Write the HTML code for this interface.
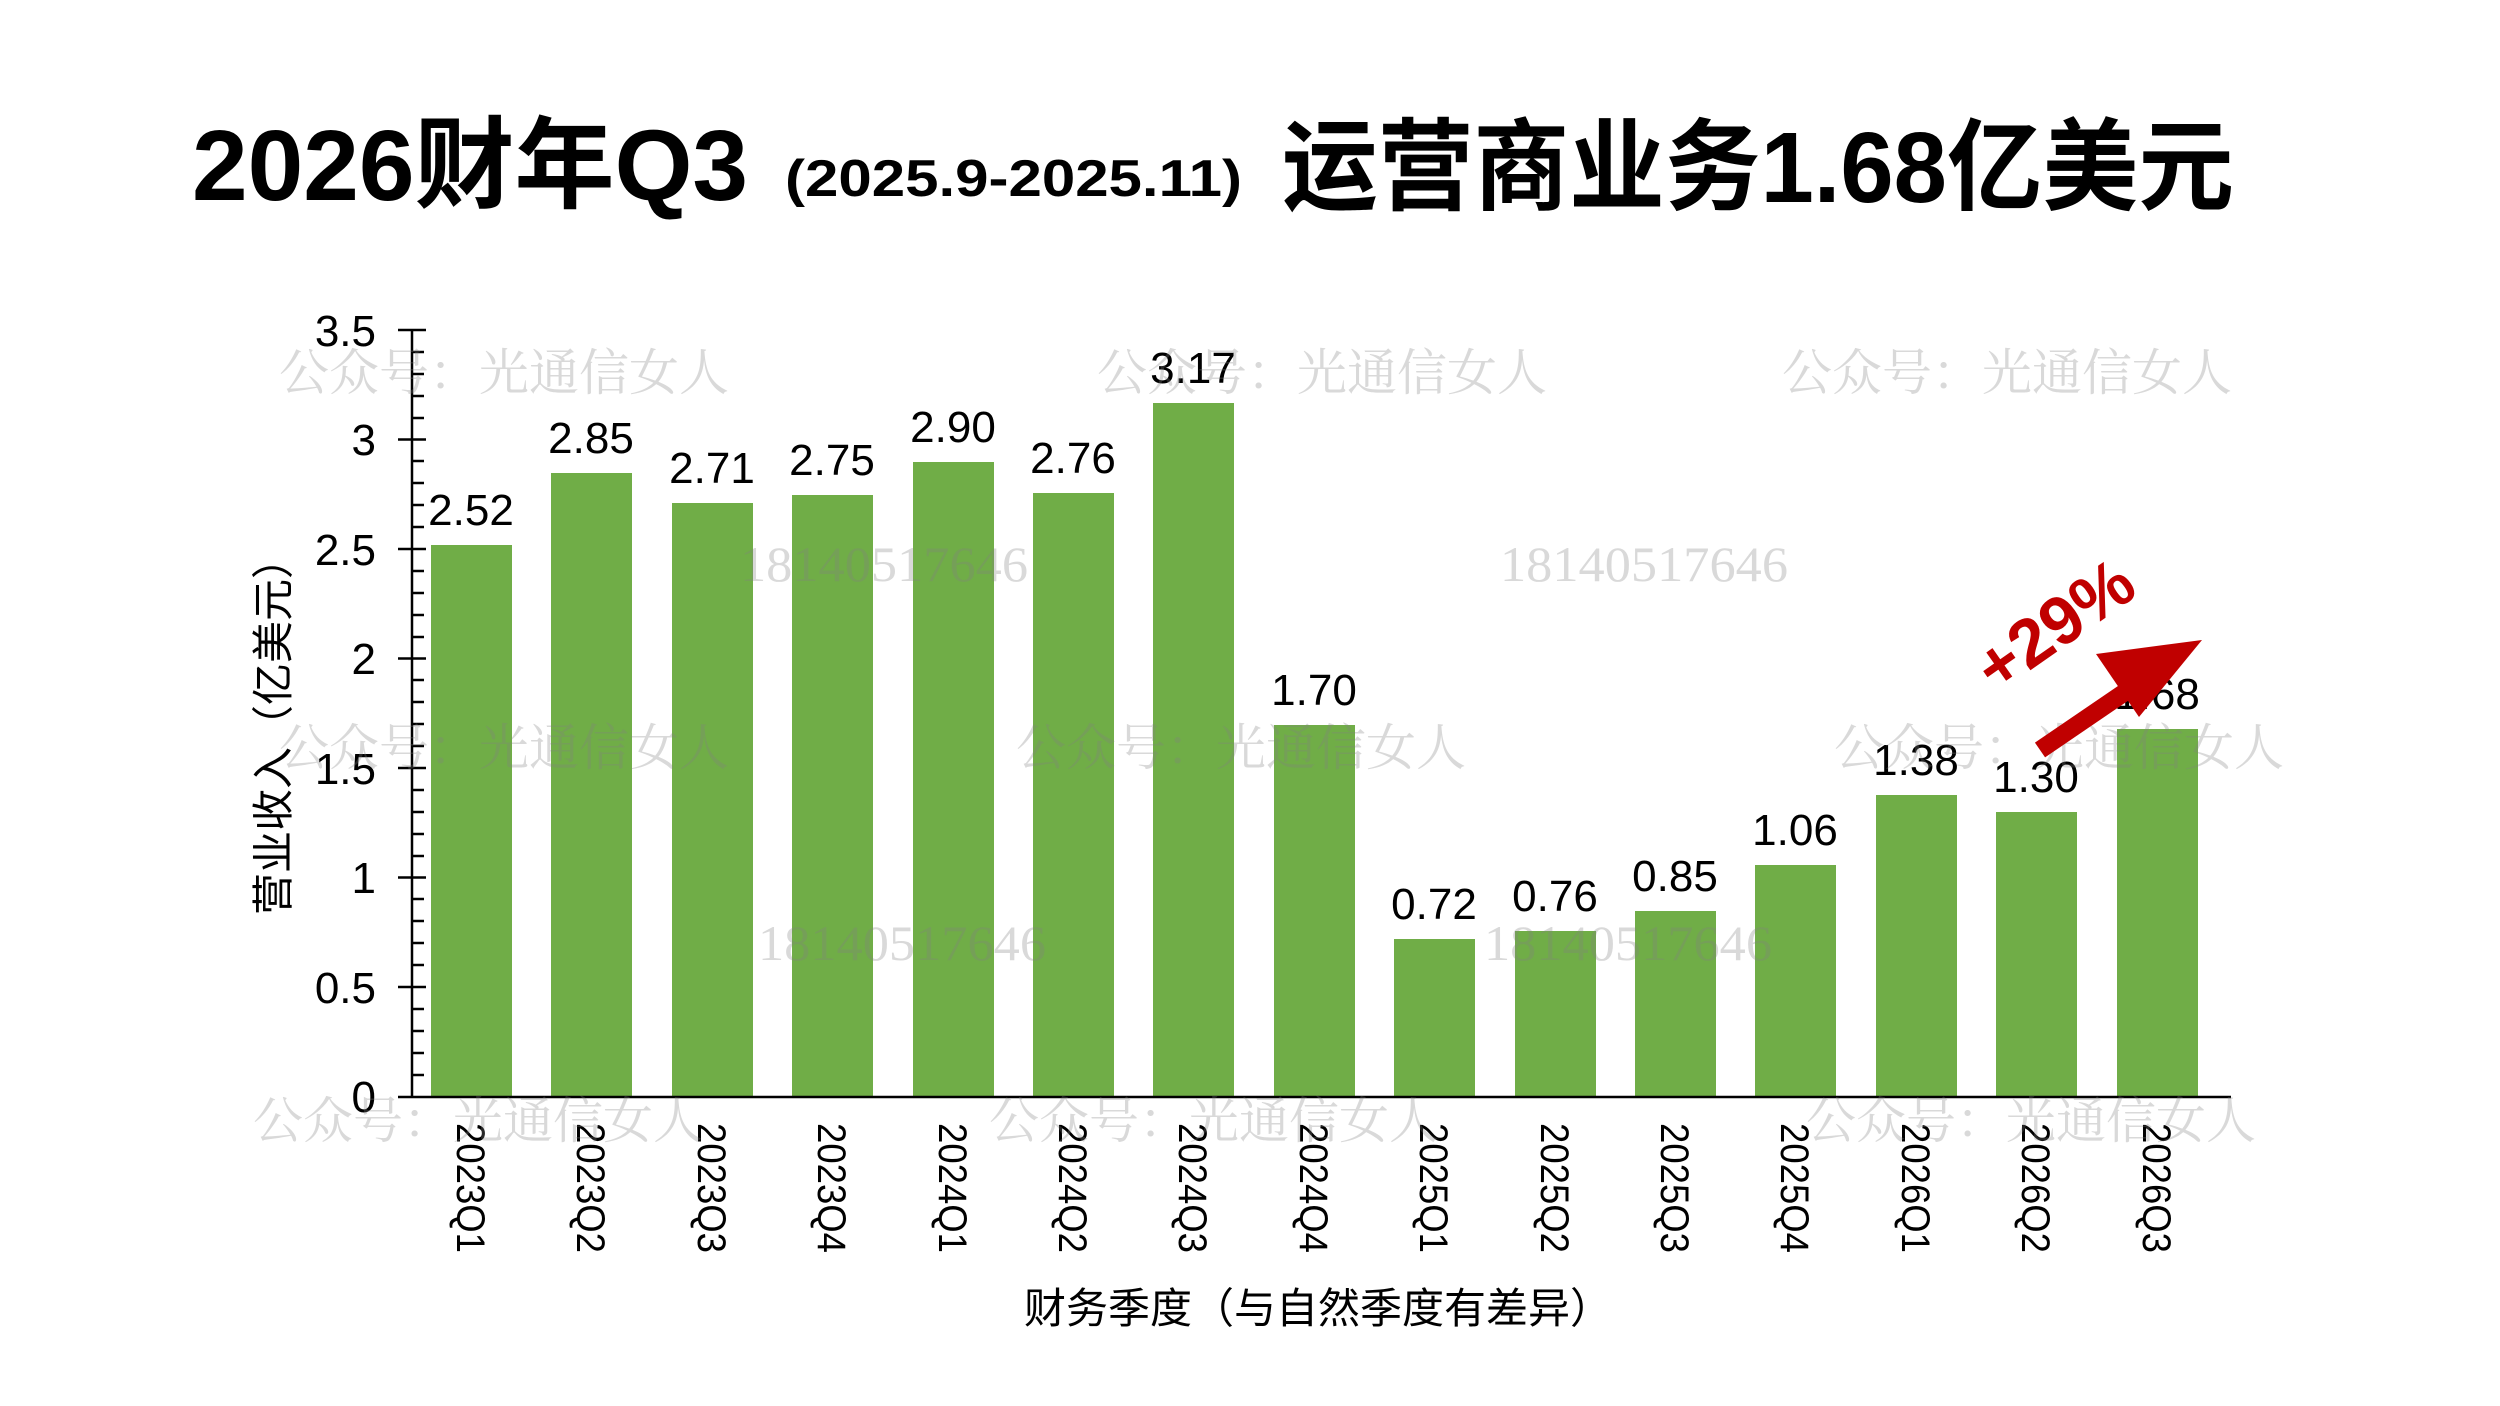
<!DOCTYPE html>
<html><head><meta charset="utf-8"><style>
html,body{margin:0;padding:0;background:#fff;}
svg{display:block;}
</style></head><body>
<svg width="2500" height="1406" viewBox="0 0 2500 1406" xmlns="http://www.w3.org/2000/svg">
<rect width="2500" height="1406" fill="#fff"/>
<g font-family="'Liberation Sans','Noto Sans CJK SC',sans-serif" font-weight="bold" fill="#000">
<text x="192" y="200" font-size="100" textLength="556" lengthAdjust="spacingAndGlyphs">2026财年Q3</text>
<text x="785" y="196" font-size="52" textLength="457" lengthAdjust="spacingAndGlyphs">(2025.9-2025.11)</text>
<text x="1282" y="202" font-size="100" textLength="952" lengthAdjust="spacingAndGlyphs">运营商业务1.68亿美元</text>
</g>
<g fill="#70AD47">
<rect x="431" y="545" width="81" height="552"/>
<rect x="551" y="473" width="81" height="624"/>
<rect x="672" y="503" width="81" height="594"/>
<rect x="792" y="495" width="81" height="602"/>
<rect x="913" y="462" width="81" height="635"/>
<rect x="1033" y="493" width="81" height="604"/>
<rect x="1153" y="403" width="81" height="694"/>
<rect x="1274" y="725" width="81" height="372"/>
<rect x="1394" y="939" width="81" height="158"/>
<rect x="1515" y="931" width="81" height="166"/>
<rect x="1635" y="911" width="81" height="186"/>
<rect x="1755" y="865" width="81" height="232"/>
<rect x="1876" y="795" width="81" height="302"/>
<rect x="1996" y="812" width="81" height="285"/>
<rect x="2117" y="729" width="81" height="368"/>
</g>
<g stroke="#000" stroke-width="2.5" fill="none">
<line x1="412" y1="330" x2="412" y2="1097"/>
<line x1="398" y1="1097" x2="2231" y2="1097"/>
<path d="M398 330H426 M398 439.5H426 M398 549H426 M398 658.5H426 M398 768H426 M398 877.5H426 M398 987H426"/>
<path d="M412 352H424 M412 374H424 M412 396H424 M412 418H424 M412 461H424 M412 483H424 M412 505H424 M412 527H424 M412 571H424 M412 593H424 M412 615H424 M412 637H424 M412 680H424 M412 702H424 M412 724H424 M412 746H424 M412 790H424 M412 812H424 M412 834H424 M412 856H424 M412 899H424 M412 921H424 M412 943H424 M412 965H424 M412 1009H424 M412 1031H424 M412 1053H424 M412 1075H424"/>
</g>
<g font-family="'Liberation Sans','Noto Sans CJK SC',sans-serif" font-size="44" fill="#000" text-anchor="end">
<text x="376" y="346">3.5</text><text x="376" y="455">3</text><text x="376" y="565">2.5</text>
<text x="376" y="674">2</text><text x="376" y="784">1.5</text><text x="376" y="893">1</text>
<text x="376" y="1003">0.5</text><text x="376" y="1112">0</text>
</g>
<g font-family="'Liberation Sans','Noto Sans CJK SC',sans-serif" font-size="44" fill="#000" text-anchor="middle">
<text x="471" y="525">2.52</text><text x="591" y="453">2.85</text><text x="712" y="483">2.71</text>
<text x="832" y="475">2.75</text><text x="953" y="442">2.90</text><text x="1073" y="473">2.76</text>
<text x="1193" y="383">3.17</text><text x="1314" y="705">1.70</text><text x="1434" y="919">0.72</text>
<text x="1555" y="911">0.76</text><text x="1675" y="891">0.85</text><text x="1795" y="845">1.06</text>
<text x="1916" y="775">1.38</text><text x="2036" y="792">1.30</text><text x="2157" y="709">1.68</text>
</g>
<g font-family="'Liberation Sans','Noto Sans CJK SC',sans-serif" font-size="40" fill="#000">
<text transform="translate(457,1123) rotate(90)" textLength="130" lengthAdjust="spacingAndGlyphs">2023Q1</text>
<text transform="translate(577,1123) rotate(90)" textLength="130" lengthAdjust="spacingAndGlyphs">2023Q2</text>
<text transform="translate(698,1123) rotate(90)" textLength="130" lengthAdjust="spacingAndGlyphs">2023Q3</text>
<text transform="translate(818,1123) rotate(90)" textLength="130" lengthAdjust="spacingAndGlyphs">2023Q4</text>
<text transform="translate(939,1123) rotate(90)" textLength="130" lengthAdjust="spacingAndGlyphs">2024Q1</text>
<text transform="translate(1059,1123) rotate(90)" textLength="130" lengthAdjust="spacingAndGlyphs">2024Q2</text>
<text transform="translate(1179,1123) rotate(90)" textLength="130" lengthAdjust="spacingAndGlyphs">2024Q3</text>
<text transform="translate(1300,1123) rotate(90)" textLength="130" lengthAdjust="spacingAndGlyphs">2024Q4</text>
<text transform="translate(1420,1123) rotate(90)" textLength="130" lengthAdjust="spacingAndGlyphs">2025Q1</text>
<text transform="translate(1541,1123) rotate(90)" textLength="130" lengthAdjust="spacingAndGlyphs">2025Q2</text>
<text transform="translate(1661,1123) rotate(90)" textLength="130" lengthAdjust="spacingAndGlyphs">2025Q3</text>
<text transform="translate(1781,1123) rotate(90)" textLength="130" lengthAdjust="spacingAndGlyphs">2025Q4</text>
<text transform="translate(1902,1123) rotate(90)" textLength="130" lengthAdjust="spacingAndGlyphs">2026Q1</text>
<text transform="translate(2022,1123) rotate(90)" textLength="130" lengthAdjust="spacingAndGlyphs">2026Q2</text>
<text transform="translate(2143,1123) rotate(90)" textLength="130" lengthAdjust="spacingAndGlyphs">2026Q3</text>
<text transform="translate(288,726) rotate(-90)" text-anchor="middle" font-size="42">营业收入（亿美元）</text>
<text x="1318" y="1323" text-anchor="middle" font-size="42">财务季度（与自然季度有差异）</text>
</g>
<g font-family="'Liberation Serif','Noto Serif CJK SC',serif" font-size="50" fill="#808080" fill-opacity="0.3">
<text x="279" y="390">公众号：光通信女人</text>
<text x="1097" y="390">公众号：光通信女人</text>
<text x="1782" y="390">公众号：光通信女人</text>
<text x="279" y="765">公众号：光通信女人</text>
<text x="1016" y="765">公众号：光通信女人</text>
<text x="1834" y="765">公众号：光通信女人</text>
<text x="253" y="1138">公众号：光通信女人</text>
<text x="989" y="1138">公众号：光通信女人</text>
<text x="1806" y="1138">公众号：光通信女人</text>
<text x="740" y="581" font-size="50" textLength="288" lengthAdjust="spacingAndGlyphs">18140517646</text>
<text x="1500" y="581" font-size="50" textLength="288" lengthAdjust="spacingAndGlyphs">18140517646</text>
<text x="758" y="960" font-size="50" textLength="288" lengthAdjust="spacingAndGlyphs">18140517646</text>
<text x="1484" y="960" font-size="50" textLength="288" lengthAdjust="spacingAndGlyphs">18140517646</text>
</g>
<g fill="#C00000">
<line x1="2040" y1="750" x2="2128" y2="690" stroke="#C00000" stroke-width="18"/>
<polygon points="2096,654 2202,640 2139,717"/>
<text transform="translate(2068,644) rotate(-35)" text-anchor="middle" font-family="'Liberation Sans',sans-serif" font-weight="bold" font-size="68">+29%</text>
</g>
</svg>
</body></html>
